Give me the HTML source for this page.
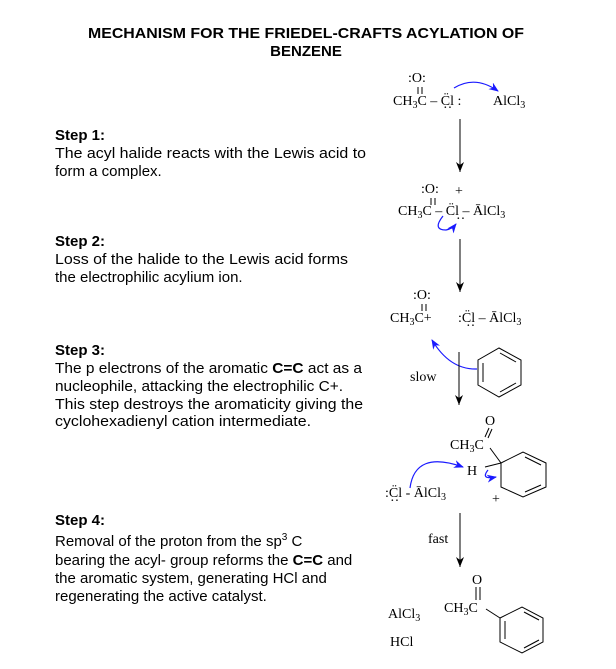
<!DOCTYPE html>
<html><head><meta charset="utf-8"><style>
html,body{margin:0;padding:0;background:#fff;}
svg{display:block}
.t{font-family:"Liberation Sans",Arial,sans-serif;font-size:15px;fill:#000}
.b{font-weight:bold}
.c{font-family:"Liberation Serif","Times New Roman",serif;font-size:14px;fill:#000}
.s{font-size:10px}
</style></head><body>
<svg width="616" height="669" viewBox="0 0 616 669" xmlns="http://www.w3.org/2000/svg">
<defs>
<marker id="ah" markerWidth="10" markerHeight="8" refX="10" refY="4" orient="auto" markerUnits="userSpaceOnUse">
<path d="M0,0 L10,4 L0,8 L3,4 Z" fill="#000"/></marker>
<marker id="bh" markerWidth="10" markerHeight="8" refX="9" refY="4" orient="auto" markerUnits="userSpaceOnUse">
<path d="M0,0 L10,4 L0,8 L3,4 Z" fill="#1a1aff"/></marker>
</defs>
<text class="t b" x="306" y="38" text-anchor="middle" font-size="14" textLength="436" lengthAdjust="spacingAndGlyphs">MECHANISM FOR THE FRIEDEL-CRAFTS ACYLATION OF</text>
<text class="t b" x="306" y="56" text-anchor="middle" font-size="14">BENZENE</text>

<text class="t b" x="55" y="140">Step 1:</text>
<text class="t" x="55" y="158" textLength="311" lengthAdjust="spacingAndGlyphs">The acyl halide reacts with the Lewis acid to</text>
<text class="t" x="55" y="176">form a complex.</text>

<text class="t b" x="55" y="246">Step 2:</text>
<text class="t" x="55" y="264" textLength="293" lengthAdjust="spacingAndGlyphs">Loss of the halide to the Lewis acid forms</text>
<text class="t" x="55" y="282">the electrophilic acylium ion.</text>

<text class="t b" x="55" y="355">Step 3:</text>
<text class="t" x="55" y="373" textLength="307" lengthAdjust="spacingAndGlyphs">The p electrons of the aromatic <tspan class="b">C=C</tspan> act as a</text>
<text class="t" x="55" y="391" textLength="288" lengthAdjust="spacingAndGlyphs">nucleophile, attacking the electrophilic C+.</text>
<text class="t" x="55" y="409" textLength="308" lengthAdjust="spacingAndGlyphs">This step destroys the aromaticity giving the</text>
<text class="t" x="55" y="426" textLength="256" lengthAdjust="spacingAndGlyphs">cyclohexadienyl cation intermediate.</text>

<text class="t b" x="55" y="525">Step 4:</text>
<text class="t" x="55" y="546">Removal of the proton from the sp<tspan font-size="10" dy="-6">3</tspan><tspan dy="6"> C</tspan></text>
<text class="t" x="55" y="565">bearing the acyl- group reforms the <tspan class="b">C=C</tspan> and</text>
<text class="t" x="55" y="583">the aromatic system, generating HCl and</text>
<text class="t" x="55" y="601">regenerating the active catalyst.</text>

<!-- structure 1 -->
<text class="c" x="408" y="82">:O:</text>
<line x1="418" y1="87" x2="418" y2="94" stroke="#000"/><line x1="422" y1="87" x2="422" y2="94" stroke="#000"/>
<text class="c" x="393" y="105">CH<tspan class="s" dy="3">3</tspan><tspan dy="-3">C – C̈l :</tspan></text>
<text class="c" x="443" y="112" font-size="10">··</text>
<text class="c" x="493" y="105">AlCl<tspan class="s" dy="3">3</tspan></text>
<path d="M454,88 Q475,75 498,91" fill="none" stroke="#1a1aff" stroke-width="1.2" marker-end="url(#bh)"/>
<line x1="460" y1="119" x2="460" y2="172" stroke="#000" marker-end="url(#ah)"/>

<!-- structure 2 -->
<text class="c" x="421" y="193">:O:</text>
<text class="c" x="455" y="195">+</text>
<line x1="431" y1="198" x2="431" y2="205" stroke="#000"/><line x1="435" y1="198" x2="435" y2="205" stroke="#000"/>
<text class="c" x="398" y="215">CH<tspan class="s" dy="3">3</tspan><tspan dy="-3">C – C̈l – ĀlCl</tspan><tspan class="s" dy="3">3</tspan></text>
<text class="c" x="456" y="223" font-size="10">··</text>
<path d="M443,216 Q432,230 446,230 Q452,229 456,224" fill="none" stroke="#1a1aff" stroke-width="1.2" marker-end="url(#bh)"/>
<line x1="460" y1="239" x2="460" y2="292" stroke="#000" marker-end="url(#ah)"/>

<!-- structure 3 -->
<text class="c" x="413" y="299">:O:</text>
<line x1="422" y1="304" x2="422" y2="311" stroke="#000"/><line x1="426" y1="304" x2="426" y2="311" stroke="#000"/>
<text class="c" x="390" y="322">CH<tspan class="s" dy="3">3</tspan><tspan dy="-3">C+</tspan></text>
<text class="c" x="458" y="322">:C̈l – ĀlCl<tspan class="s" dy="3">3</tspan></text>
<text class="c" x="466" y="330" font-size="10">··</text>
<path d="M477,369 Q450,370 432,340" fill="none" stroke="#1a1aff" stroke-width="1.2" marker-end="url(#bh)"/>
<line x1="459" y1="352" x2="459" y2="405" stroke="#000" marker-end="url(#ah)"/>
<text class="c" x="410" y="381">slow</text>
<polygon points="499,348 521,360 521,385 499,397 478,385 478,360" fill="none" stroke="#000"/>
<line x1="483" y1="363" x2="483" y2="382" stroke="#000"/>
<line x1="500" y1="353" x2="516" y2="362" stroke="#000"/>
<line x1="500" y1="392" x2="516" y2="383" stroke="#000"/>

<!-- intermediate -->
<text class="c" x="485" y="425">O</text>
<line x1="489" y1="428" x2="485" y2="437" stroke="#000"/><line x1="492" y1="429" x2="488" y2="438" stroke="#000"/>
<text class="c" x="450" y="449">CH<tspan class="s" dy="3">3</tspan><tspan dy="-3">C</tspan></text>
<line x1="490" y1="448" x2="501" y2="463" stroke="#000"/>
<text class="c" x="467" y="475">H</text>
<line x1="485" y1="467" x2="501" y2="463" stroke="#000"/>
<polygon points="501,463 523,452 546,463 546,487 523,497 501,487" fill="none" stroke="#000"/>
<line x1="525" y1="457" x2="541" y2="465" stroke="#000"/>
<line x1="541" y1="485" x2="525" y2="492" stroke="#000"/>
<text class="c" x="492" y="503">+</text>
<path d="M488,470 Q480,480 496,477" fill="none" stroke="#1a1aff" stroke-width="1.2" marker-end="url(#bh)"/>
<text class="c" x="385" y="497">:C̈l - ĀlCl<tspan class="s" dy="3">3</tspan></text>
<text class="c" x="390" y="505" font-size="10">··</text>
<path d="M410,488 Q415,450 463,467" fill="none" stroke="#1a1aff" stroke-width="1.2" marker-end="url(#bh)"/>
<line x1="460" y1="513" x2="460" y2="567" stroke="#000" marker-end="url(#ah)"/>
<text class="c" x="428" y="543">fast</text>

<!-- product -->
<text class="c" x="472" y="584">O</text>
<line x1="476" y1="587" x2="476" y2="600" stroke="#000"/><line x1="480" y1="587" x2="480" y2="600" stroke="#000"/>
<text class="c" x="444" y="612">CH<tspan class="s" dy="3">3</tspan><tspan dy="-3">C</tspan></text>
<line x1="486" y1="609" x2="500" y2="618" stroke="#000"/>
<polygon points="500,618 522,607 543,618 543,642 522,653 500,642" fill="none" stroke="#000"/>
<line x1="524" y1="612" x2="539" y2="620" stroke="#000"/>
<line x1="539" y1="640" x2="524" y2="648" stroke="#000"/>
<line x1="505" y1="621" x2="505" y2="639" stroke="#000"/>
<text class="c" x="388" y="618">AlCl<tspan class="s" dy="3">3</tspan></text>
<text class="c" x="390" y="646">HCl</text>
</svg>
</body></html>
